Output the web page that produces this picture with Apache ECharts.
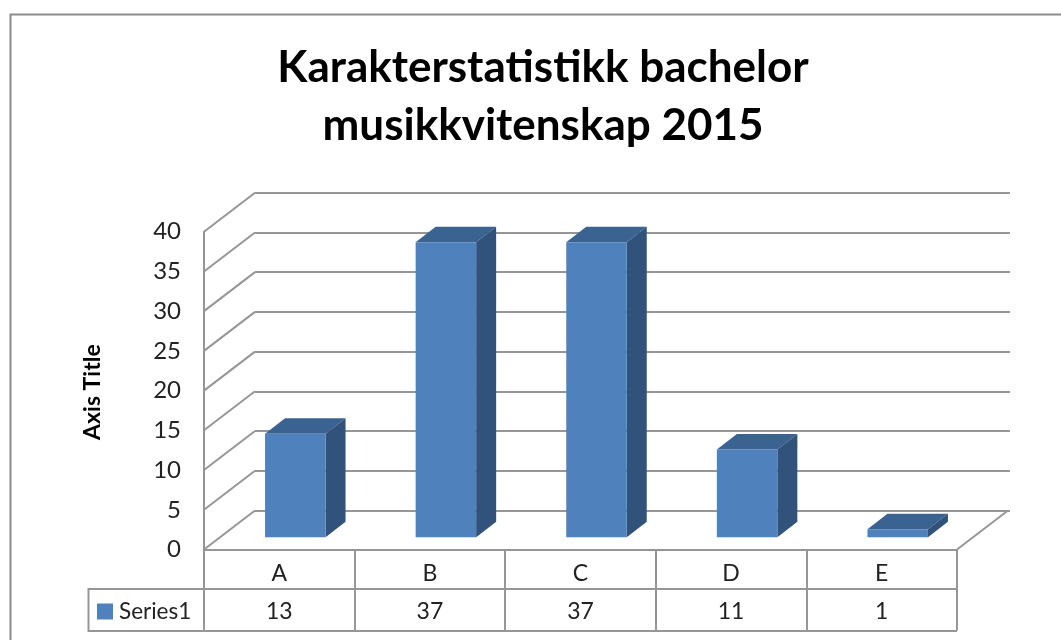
<!DOCTYPE html>
<html>
<head>
<meta charset="utf-8">
<style>html,body{margin:0;padding:0;background:#fff}#c{width:1061px;height:640px}</style>
<script src="https://cdn.jsdelivr.net/npm/echarts@6/dist/echarts.min.js"></script>
</head>
<body>
<div id="c"></div>
<script>
const categories = ['A', 'B', 'C', 'D', 'E'];
const seriesName = 'Series1';
const tableValues = ['13', '37', '37', '11', '1'];
const series1 = [13, 37, 37, 11, 1];
const yTicks = [0, 5, 10, 15, 20, 25, 30, 35, 40];
const titleText = 'Karakterstatistikk bachelor\nmusikkvitenskap 2015';

const LINE = '#969696', FONT = 'Lato';
const WALL_DX = 51, WALL_DY = -39;   // side-wall depth
const BAR_DX = 20, BAR_DY = -15.5;   // bar depth
const lineStyle = {color: LINE, width: 2};
const chart = echarts.init(document.getElementById('c'), null, {renderer: 'canvas'});

function hiddenX(i, data) { return {type: 'category', gridIndex: i, data: data, show: false}; }
function hiddenY(i) { return {type: 'value', gridIndex: i, min: 0, max: 40, interval: 5, show: false}; }

chart.setOption({
  animation: false,
  backgroundColor: '#fff',
  title: {
    text: titleText, left: 538, top: 34, textAlign: 'center',
    textStyle: {fontFamily: FONT, fontWeight: 'bold', fontSize: 44, lineHeight: 58, color: '#000'}
  },
  legend: {
    data: [seriesName], left: 92, top: 595, itemWidth: 16, itemHeight: 16, itemGap: 0, icon: 'rect',
    textStyle: {fontFamily: FONT, fontSize: 22.5, color: '#222', padding: [0, 0, 0, 1]}
  },
  grid: [
    {left: 204, width: 753, top: 231.7, height: 317.8},
    {left: 255, width: 755, top: 192.7, height: 317.8},
    {left: 220, width: 753, top: 218.3, height: 319}
  ],
  xAxis: [
    {
      type: 'category', gridIndex: 0, data: categories, position: 'bottom',
      axisLine: {show: true, lineStyle: lineStyle},
      axisTick: {show: true, length: 81, lineStyle: lineStyle},
      axisLabel: {margin: 13, fontFamily: FONT, fontSize: 23, color: '#222'}
    },
    {
      type: 'category', gridIndex: 0, data: tableValues, position: 'bottom', offset: 40,
      axisLine: {show: false}, axisTick: {show: false},
      axisLabel: {margin: 11, fontFamily: FONT, fontSize: 23, color: '#222'}
    },
    hiddenX(1, categories),
    hiddenX(2, categories)
  ],
  yAxis: [
    {
      type: 'value', gridIndex: 0, min: 0, max: 40, interval: 5,
      name: 'Axis Title', nameLocation: 'middle', nameRotate: 90, nameGap: 100,
      nameTextStyle: {fontFamily: FONT, fontWeight: 'bold', fontSize: 23, color: '#000', padding: [0, 3, 0, 0]},
      axisLine: {show: true, lineStyle: lineStyle}, axisTick: {show: false},
      axisLabel: {margin: 23, fontFamily: FONT, fontSize: 24, color: '#222'},
      splitLine: {show: false}
    },
    {
      type: 'value', gridIndex: 1, min: 0, max: 40, interval: 5,
      axisLine: {show: false}, axisTick: {show: false}, axisLabel: {show: false},
      splitLine: {show: true, lineStyle: lineStyle}
    },
    hiddenY(2)
  ],
  series: [
    {
      name: 'walls', type: 'custom', xAxisIndex: 0, yAxisIndex: 0, z: 1, silent: true,
      data: yTicks.map(v => [0, v]),
      renderItem(params, api) {
        const p = api.coord([api.value(0), api.value(1)]);
        const half = api.size([1, 0])[0] / 2;
        return {type: 'line', shape: {x1: p[0] - half, y1: p[1], x2: p[0] - half + WALL_DX, y2: p[1] + WALL_DY},
                style: {stroke: LINE, lineWidth: 2, fill: null}};
      }
    },
    {
      name: 'floorEdge', type: 'custom', xAxisIndex: 0, yAxisIndex: 0, z: 1, silent: true,
      data: [[categories.length - 1, 0]],
      renderItem(params, api) {
        const p = api.coord([api.value(0), api.value(1)]);
        const half = api.size([1, 0])[0] / 2;
        return {type: 'line', shape: {x1: p[0] + half, y1: p[1], x2: p[0] + half + WALL_DX, y2: p[1] + WALL_DY},
                style: {stroke: LINE, lineWidth: 2, fill: null}};
      }
    },
    {
      name: seriesName, type: 'custom', xAxisIndex: 3, yAxisIndex: 2, z: 3,
      itemStyle: {color: '#4f81bd'},
      data: series1.map((v, i) => [i, v]),
      encode: {x: 0, y: 1},
      renderItem(params, api) {
        const top = api.coord([api.value(0), api.value(1)]);
        const base = api.coord([api.value(0), 0]);
        const w = 60.5, l = top[0] - w / 2, r = top[0] + w / 2;
        const poly = (points, fill) => ({type: 'polygon', shape: {points}, style: {fill, stroke: null}});
        return {type: 'group', children: [
          poly([[l, top[1]], [l + BAR_DX, top[1] + BAR_DY], [r + BAR_DX, top[1] + BAR_DY], [r, top[1]]], '#3b6391'),
          poly([[r, top[1]], [r + BAR_DX, top[1] + BAR_DY], [r + BAR_DX, base[1] + BAR_DY], [r, base[1]]], '#31527b'),
          poly([[l, top[1]], [r, top[1]], [r, base[1]], [l, base[1]]], '#4f81bd')
        ]};
      }
    }
  ],
  graphic: [
    {type: 'rect', silent: true, z: -1, shape: {x: 10.5, y: 14.5, width: 1200, height: 800},
     style: {fill: null, stroke: '#8c8c8c', lineWidth: 2}},
    {type: 'polyline', silent: true, shape: {points: [[957, 589], [88.5, 589], [88.5, 631], [957, 631]]},
     style: {fill: null, stroke: LINE, lineWidth: 2}},
    {type: 'line', silent: true, shape: {x1: 204, y1: 549, x2: 204, y2: 631},
     style: {stroke: LINE, lineWidth: 2}}
  ]
});
</script>
</body>
</html>
